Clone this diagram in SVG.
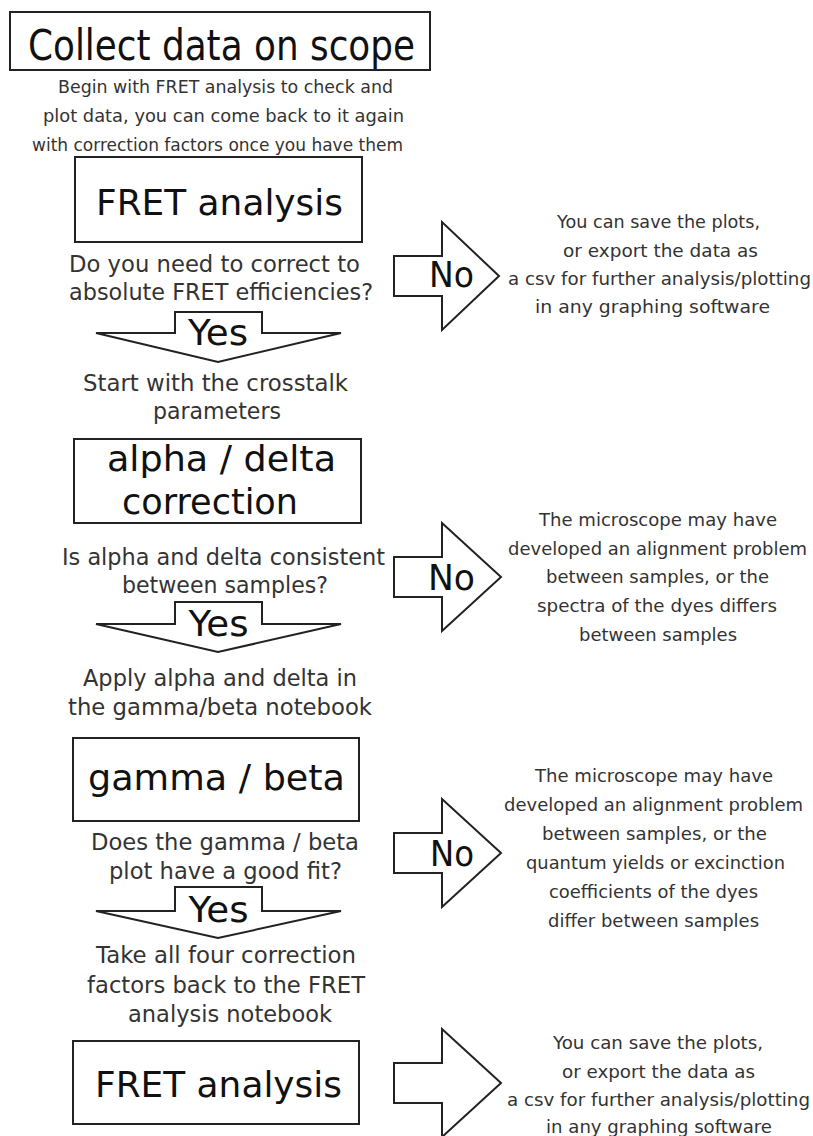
<svg xmlns="http://www.w3.org/2000/svg" width="813" height="1136" viewBox="0 0 813 1136">
  <style>
    text { font-family: "DejaVu Sans", Verdana, sans-serif; text-anchor: middle; }
    .box { fill: #fff; stroke: #222; stroke-width: 2; }
    .arrow { fill: #fff; stroke: #222; stroke-width: 2; stroke-linejoin: miter; }
    .big { font-size: 36px; fill: #111; }
    .title { font-size: 43px; fill: #111; }
    .note { font-size: 17.5px; fill: #333; }
    .q { font-size: 22.5px; fill: #333; }
    .side { font-size: 18px; fill: #333; }
  </style>
  <rect width="813" height="1136" fill="#fff"/>

  <!-- Start: data collection -->
  <g id="collect">
    <rect class="box" x="10" y="12" width="420" height="58"/>
    <text class="title" x="221.5" y="60" textLength="387" lengthAdjust="spacingAndGlyphs">Collect data on scope</text>
    <text class="note" x="225.5" y="93" textLength="335" lengthAdjust="spacingAndGlyphs">Begin with FRET analysis to check and</text>
    <text class="note" x="223.5" y="122" textLength="361" lengthAdjust="spacingAndGlyphs">plot data, you can come back to it again</text>
    <text class="note" x="217.5" y="151" textLength="371" lengthAdjust="spacingAndGlyphs">with correction factors once you have them</text>
  </g>

  <!-- First FRET analysis pass -->
  <g id="fret1">
    <rect class="box" x="75" y="157" width="287" height="85"/>
    <text class="big" x="219.5" y="215" textLength="247" lengthAdjust="spacingAndGlyphs">FRET analysis</text>
    <text class="q" x="214.5" y="272" textLength="291" lengthAdjust="spacingAndGlyphs">Do you need to correct to</text>
    <text class="q" x="221" y="300" textLength="304" lengthAdjust="spacingAndGlyphs">absolute FRET efficiencies?</text>
  </g>

  <g id="out1">
    <text class="side" x="658.5" y="228" textLength="203" lengthAdjust="spacingAndGlyphs">You can save the plots,</text>
    <text class="side" x="660.5" y="257" textLength="195" lengthAdjust="spacingAndGlyphs">or export the data as</text>
    <text class="side" x="659.5" y="285" textLength="303" lengthAdjust="spacingAndGlyphs">a csv for further analysis/plotting</text>
    <text class="side" x="652.5" y="313" textLength="235" lengthAdjust="spacingAndGlyphs">in any graphing software</text>
  </g>

  <!-- Crosstalk correction -->
  <g id="alphadelta">
    <text class="q" x="215.5" y="391" textLength="265" lengthAdjust="spacingAndGlyphs">Start with the crosstalk</text>
    <text class="q" x="217" y="419" textLength="128" lengthAdjust="spacingAndGlyphs">parameters</text>
    <rect class="box" x="74" y="439" width="287" height="84"/>
    <text class="big" x="221.5" y="471" textLength="229" lengthAdjust="spacingAndGlyphs">alpha / delta</text>
    <text class="big" x="210" y="514" textLength="176" lengthAdjust="spacingAndGlyphs">correction</text>
    <text class="q" x="223.5" y="565" textLength="323" lengthAdjust="spacingAndGlyphs">Is alpha and delta consistent</text>
    <text class="q" x="225" y="593" textLength="206" lengthAdjust="spacingAndGlyphs">between samples?</text>
  </g>

  <g id="out2">
    <text class="side" x="658" y="526" textLength="238" lengthAdjust="spacingAndGlyphs">The microscope may have</text>
    <text class="side" x="657.5" y="555" textLength="299" lengthAdjust="spacingAndGlyphs">developed an alignment problem</text>
    <text class="side" x="657.5" y="583" textLength="223" lengthAdjust="spacingAndGlyphs">between samples, or the</text>
    <text class="side" x="657" y="612" textLength="240" lengthAdjust="spacingAndGlyphs">spectra of the dyes differs</text>
    <text class="side" x="658" y="641" textLength="158" lengthAdjust="spacingAndGlyphs">between samples</text>
  </g>

  <!-- Gamma / beta correction -->
  <g id="gammabeta">
    <text class="q" x="220" y="686" textLength="274" lengthAdjust="spacingAndGlyphs">Apply alpha and delta in</text>
    <text class="q" x="220" y="715" textLength="304" lengthAdjust="spacingAndGlyphs">the gamma/beta notebook</text>
    <rect class="box" x="73" y="738" width="286" height="83"/>
    <text class="big" x="216.5" y="790" textLength="257" lengthAdjust="spacingAndGlyphs">gamma / beta</text>
    <text class="q" x="225" y="850" textLength="268" lengthAdjust="spacingAndGlyphs">Does the gamma / beta</text>
    <text class="q" x="225.5" y="879" textLength="233" lengthAdjust="spacingAndGlyphs">plot have a good fit?</text>
  </g>

  <g id="out3">
    <text class="side" x="654" y="782" textLength="238" lengthAdjust="spacingAndGlyphs">The microscope may have</text>
    <text class="side" x="653.5" y="811" textLength="299" lengthAdjust="spacingAndGlyphs">developed an alignment problem</text>
    <text class="side" x="654.5" y="840" textLength="225" lengthAdjust="spacingAndGlyphs">between samples, or the</text>
    <text class="side" x="655.5" y="869" textLength="259" lengthAdjust="spacingAndGlyphs">quantum yields or excinction</text>
    <text class="side" x="653.5" y="898" textLength="209" lengthAdjust="spacingAndGlyphs">coefficients of the dyes</text>
    <text class="side" x="653.5" y="927" textLength="211" lengthAdjust="spacingAndGlyphs">differ between samples</text>
  </g>

  <!-- Final FRET analysis pass -->
  <g id="fret2">
    <text class="q" x="226" y="963" textLength="260" lengthAdjust="spacingAndGlyphs">Take all four correction</text>
    <text class="q" x="226" y="993" textLength="278" lengthAdjust="spacingAndGlyphs">factors back to the FRET</text>
    <text class="q" x="230" y="1022" textLength="204" lengthAdjust="spacingAndGlyphs">analysis notebook</text>
    <rect class="box" x="73" y="1041" width="286" height="83"/>
    <text class="big" x="218.5" y="1097" textLength="247" lengthAdjust="spacingAndGlyphs">FRET analysis</text>
  </g>

  <g id="out4">
    <text class="side" x="658" y="1049" textLength="210" lengthAdjust="spacingAndGlyphs">You can save the plots,</text>
    <text class="side" x="658.5" y="1078" textLength="193" lengthAdjust="spacingAndGlyphs">or export the data as</text>
    <text class="side" x="658.5" y="1106" textLength="303" lengthAdjust="spacingAndGlyphs">a csv for further analysis/plotting</text>
    <text class="side" x="659" y="1133" textLength="226" lengthAdjust="spacingAndGlyphs">in any graphing software</text>
  </g>

  <!-- Block arrows: "Yes" goes down, "No" goes right -->
  <g id="connectors">
    <g id="yes1">
      <polygon class="arrow" points="175,312 262,312 262,333 341,333 218,362 96,333 175,333"/>
      <text class="big" x="218" y="345" textLength="60" lengthAdjust="spacingAndGlyphs">Yes</text>
    </g>
    <g id="yes2">
      <polygon class="arrow" points="175,602 262,602 262,624 341,624 218,652 96,624 175,624"/>
      <text class="big" x="218.5" y="636" textLength="60" lengthAdjust="spacingAndGlyphs">Yes</text>
    </g>
    <g id="yes3">
      <polygon class="arrow" points="175,887 262,887 262,911 341,911 218,938 96,911 175,911"/>
      <text class="big" x="218.5" y="922" textLength="60" lengthAdjust="spacingAndGlyphs">Yes</text>
    </g>
    <g id="no1">
      <polygon class="arrow" points="394,256 442,256 442,222 499,276 442,330 442,296 394,296"/>
      <text class="big" x="451.5" y="287" textLength="45" lengthAdjust="spacingAndGlyphs">No</text>
    </g>
    <g id="no2">
      <polygon class="arrow" points="394,557 442,557 442,523 501,577 442,631 442,597 394,597"/>
      <text class="big" x="451.5" y="590" textLength="47" lengthAdjust="spacingAndGlyphs">No</text>
    </g>
    <g id="no3">
      <polygon class="arrow" points="394,833 442,833 442,799 501,853 442,907 442,873 394,873"/>
      <text class="big" x="452" y="866" textLength="44" lengthAdjust="spacingAndGlyphs">No</text>
    </g>
    <g id="no4">
      <polygon class="arrow" points="394,1063 442,1063 442,1029 501,1083 442,1137 442,1103 394,1103"/>
    </g>
  </g>
</svg>
